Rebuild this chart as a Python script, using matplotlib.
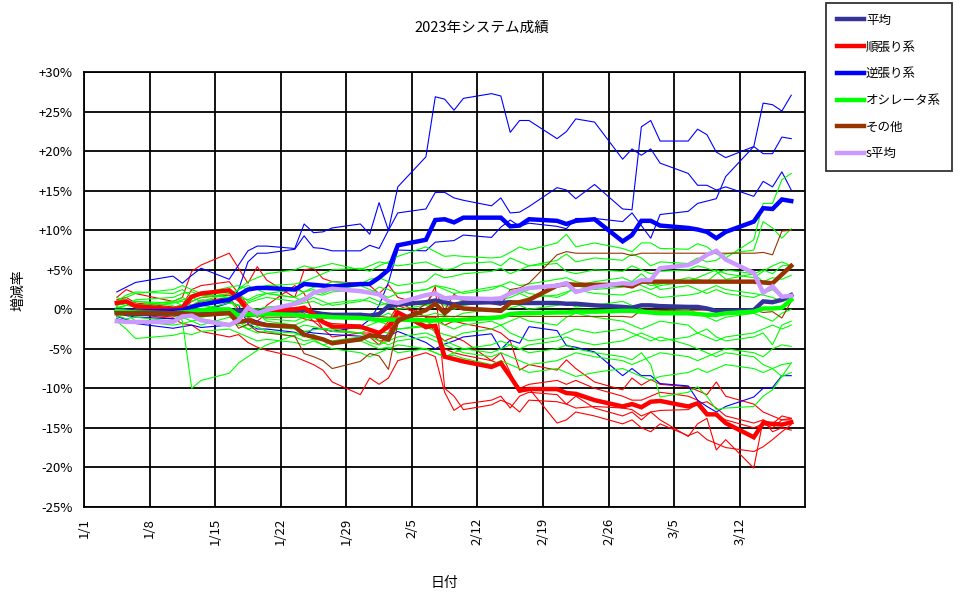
import matplotlib
matplotlib.use("Agg")
import matplotlib.pyplot as plt
from datetime import date

plt.rcParams['font.family'] = ['Noto Sans CJK JP', 'DejaVu Sans']

dates = ['1/4','1/5','1/6','1/10','1/11','1/12','1/13','1/16','1/17','1/18','1/19','1/20',
         '1/23','1/24','1/25','1/26','1/27','1/30','1/31','2/1','2/2','2/3','2/6','2/7','2/8',
         '2/9','2/10','2/13','2/14','2/15','2/16','2/17','2/20','2/21','2/22','2/24','2/27',
         '2/28','3/1','3/2','3/3','3/6','3/7','3/8','3/9','3/10','3/13','3/14','3/15','3/16','3/17']

tick_labels = ['1/1','1/8','1/15','1/22','1/29','2/5','2/12','2/19','2/26','3/5','3/12']
y_ticks = [30, 25, 20, 15, 10, 5, 0, -5, -10, -15, -20, -25]

# averages (%)
avg_all = [-0.3,-0.5,-0.6,-0.6,-0.5,-0.4,-0.2,-0.3,-0.2,-0.3,-0.4,-0.3,-0.2,-0.1,-0.4,-0.6,-0.7,
           -0.7,-0.8,-0.6,0.4,0.6,0.9,1.1,0.9,0.6,0.8,0.9,0.8,0.9,0.8,0.8,0.8,0.7,0.7,0.5,0.3,
           0.2,0.5,0.5,0.4,0.3,0.3,0.1,-0.2,-0.2,-0.1,1.0,0.9,1.2,1.8]
trend_avg = [0.8,1.0,0.4,0.0,0.2,1.6,2.0,2.4,1.4,-0.1,-0.6,-0.1,0.0,0.2,-0.6,-1.6,-2.2,-2.2,
             -2.6,-3.0,-2.2,-0.4,-2.2,-2.1,-6.0,-6.3,-6.6,-7.3,-6.8,-8.5,-10.3,-10.1,-10.1,
             -10.6,-10.7,-11.5,-12.3,-12.0,-12.4,-11.7,-11.6,-12.3,-11.9,-13.3,-13.3,-14.4,
             -16.2,-14.4,-14.5,-14.6,-14.3]
contra_avg = [-0.1,-0.2,-0.3,-0.2,-0.1,0.3,0.6,1.2,1.8,2.5,2.7,2.7,2.5,3.2,3.1,3.0,2.9,3.2,
              3.2,4.0,5.0,8.1,8.8,11.3,11.4,11.0,11.6,11.6,11.6,10.5,10.6,11.4,11.2,10.8,11.2,
              11.4,8.6,9.4,11.2,11.2,10.6,10.3,10.1,9.8,9.0,9.8,11.1,12.8,12.7,13.9,13.7]
osc_avg = [-0.2,-0.3,-0.4,-0.5,-0.4,-0.3,-0.1,0.0,-0.8,-0.6,-0.7,-0.6,-0.7,-0.8,-0.9,-0.9,
           -1.0,-1.1,-1.2,-1.4,-1.3,-1.3,-1.4,-1.4,-1.3,-1.4,-1.3,-1.1,-1.0,-0.6,-0.5,-0.5,
           -0.4,-0.4,-0.3,-0.3,-0.2,-0.2,-0.3,-0.4,-0.5,-0.5,-0.6,-0.7,-0.7,-0.5,-0.3,0.1,
           0.1,0.2,1.2]
other_avg = [-0.5,-0.5,-0.5,-0.5,-0.5,-0.6,-0.7,-0.5,-1.6,-1.4,-1.8,-2.0,-2.2,-3.2,-3.5,-3.8,
             -4.3,-3.8,-3.3,-3.4,-3.8,-1.4,-0.1,0.7,-0.5,0.5,0.1,-0.1,-0.2,0.8,0.9,1.2,3.0,
             3.2,3.1,3.1,3.1,2.9,3.5,3.5,3.5,3.5,3.5,3.5,3.5,3.5,3.5,3.4,3.3,4.4,5.5]
s_avg = [-1.5,-1.6,-1.6,-1.6,-0.9,-0.8,-1.4,-2.0,-1.4,0.2,-0.5,-0.1,0.7,1.2,2.1,2.4,2.6,2.3,
         2.1,1.9,1.0,0.8,1.8,2.0,1.4,1.5,1.4,1.3,1.4,2.0,2.4,2.7,3.0,3.3,2.2,2.8,3.3,3.2,3.7,
         3.7,5.2,5.6,6.1,6.9,7.4,6.3,4.6,2.1,2.9,1.6,1.7]

# individual systems: trend following (red)
trend_1 = [1.5,2.5,2.0,1.0,1.5,4.8,5.6,7.1,5.2,3.3,5.4,3.7,1.5,5.0,5.2,3.9,3.5,3.3,3.0,2.0,3.1,
           1.5,0.5,2.9,-10.0,-11.0,-12.7,-12.1,-11.5,-12.0,-13.0,-11.5,-11.7,-12.0,-12.5,-12.3,
           -12.5,-12.7,-13.5,-13.0,-12.8,-12.7,-12.0,-11.7,-12.5,-13.5,-14.4,-14.0,-14.5,-13.5,-13.8]
trend_2 = [0.3,-0.2,-0.6,-1.2,-1.8,-2.0,-2.8,-3.5,-3.2,-4.2,-4.8,-5.2,-6.0,-6.5,-7.0,-7.7,-9.2,
           -10.8,-8.7,-9.5,-8.7,-6.5,-5.5,-6.0,-10.5,-12.8,-12.0,-11.5,-11.0,-12.5,-11.0,-10.5,
           -10.8,-12.0,-11.0,-12.5,-13.5,-13.0,-14.0,-13.0,-14.0,-16.1,-14.5,-13.8,-17.8,-16.5,
           -20.1,-14.0,-15.5,-15.0,-15.3]
trend_3 = [1.0,0.8,0.2,-0.2,0.0,1.0,1.5,1.8,1.0,-0.5,-1.0,-0.5,-0.8,-1.2,-1.5,-1.5,-1.8,-2.0,
           -2.5,-3.0,-1.5,0.5,-1.0,-1.0,-2.0,-1.5,-1.8,-2.5,-3.0,-4.0,-7.7,-7.0,-7.7,-6.4,-7.5,
           -9.2,-10.2,-8.7,-9.6,-8.9,-9.5,-9.8,-10.3,-10.8,-9.2,-11.0,-12.0,-13.0,-13.5,-14.0,-14.0]
trend_4 = [1.2,1.5,0.8,0.3,0.5,2.5,3.0,3.5,2.0,0.5,-1.0,0.5,3.0,2.0,-0.5,-2.5,-2.8,-3.0,-3.0,
           -4.0,-4.0,1.0,-1.0,-3.0,-4.0,-3.5,-4.0,-6.5,-5.5,-8.0,-10.5,-10.0,-14.4,-14.0,-13.0,
           -13.5,-14.5,-14.0,-15.0,-15.5,-14.5,-16.0,-15.5,-16.5,-17.0,-17.5,-18.0,-17.4,-16.5,
           -15.5,-14.6]
trend_5 = [-0.5,0.0,-0.5,-1.0,-0.5,0.5,1.0,1.5,0.0,-1.0,-1.5,-0.5,0.0,-0.5,-1.5,-2.5,-3.5,-3.0,
           -3.5,-4.5,-3.0,-0.5,-2.5,-2.0,-5.0,-5.5,-5.8,-6.5,-7.0,-8.5,-10.0,-9.5,-9.0,-9.5,-9.0,
           -10.0,-11.0,-11.5,-11.5,-11.0,-10.5,-11.0,-11.5,-13.0,-13.5,-14.0,-15.0,-14.5,-15.0,
           -14.0,-13.8]

# contrarian (blue)
contra_1 = [2.2,2.8,3.4,4.2,3.3,4.3,5.2,3.8,5.6,7.4,8.0,8.0,7.7,10.8,9.7,9.8,10.3,10.8,9.5,13.5,
            10.0,15.5,19.3,26.9,26.6,25.2,26.7,27.3,27.0,22.4,23.9,23.9,21.6,22.5,24.1,23.7,19.0,
            20.3,19.5,20.3,18.5,17.2,15.7,15.7,15.1,15.5,14.3,16.2,15.5,17.4,15.1]
contra_2 = [-0.5,-0.8,-1.0,-1.2,-1.0,-0.6,-0.3,0.8,2.5,6.0,7.1,7.1,7.6,9.3,7.8,7.7,7.4,7.4,8.1,
            7.7,10.0,12.2,12.7,14.8,14.8,14.1,13.8,13.1,14.1,12.2,12.3,13.0,15.4,15.1,14.0,15.8,
            12.7,12.6,23.1,23.9,21.3,21.3,22.8,22.1,19.9,19.2,20.6,26.1,25.9,25.1,27.1]
contra_3 = [-1.2,-1.5,-1.8,-2.4,-2.2,-2.0,-2.3,-2.0,-1.6,-1.2,-1.5,-1.8,-2.3,-2.8,-3.0,-3.1,-3.2,
            -3.4,-3.5,-3.3,-3.4,-2.8,-4.2,-5.0,-4.4,-4.0,-3.5,-3.1,-5.1,-3.9,-4.3,-2.2,-2.7,-4.6,
            -4.8,-5.4,-8.4,-7.5,-8.4,-8.4,-9.4,-9.7,-11.5,-12.3,-13.0,-12.3,-11.1,-10.0,-9.9,-8.4,-8.4]
contra_4 = [-0.9,-1.3,-1.6,-1.4,-0.8,-0.6,-0.3,0.9,0.5,-1.8,-2.5,-2.5,-2.9,-3.4,-2.4,-2.5,-2.8,
            -2.2,-1.3,0.5,3.4,7.5,7.4,8.5,8.6,8.7,9.4,9.1,10.4,11.3,10.5,10.9,10.5,10.2,11.5,11.5,
            11.1,12.2,10.6,9.0,12.0,12.4,13.4,13.7,14.0,16.8,20.6,19.7,19.7,21.8,21.6]

# oscillators (green)
osc_1 = [1.0,1.8,2.2,2.0,2.5,1.5,2.0,2.8,3.0,2.5,2.8,3.0,3.2,3.5,4.0,4.5,5.0,5.2,4.8,5.5,6.0,6.7,
         7.9,7.3,6.7,6.8,6.7,6.5,6.6,7.2,7.9,7.5,8.4,9.5,7.9,8.4,7.7,7.3,8.4,8.4,7.7,7.6,8.3,7.9,
         7.0,6.5,8.8,13.4,13.4,16.4,17.2]
osc_2 = [0.5,1.0,0.5,1.0,1.5,1.0,1.5,2.0,2.5,3.5,4.0,4.5,5.0,5.5,5.2,5.5,5.8,5.0,5.5,6.0,5.8,5.5,
         6.0,5.5,5.0,5.2,5.8,6.0,5.5,6.5,6.0,5.5,6.2,7.0,6.0,6.5,6.2,7.0,6.5,5.5,6.0,5.8,6.5,6.0,
         6.2,7.0,7.5,11.1,10.3,9.0,10.2]
osc_3 = [0.8,0.5,1.2,1.5,2.0,2.2,1.8,1.5,2.0,1.0,1.5,2.0,2.5,2.2,2.8,3.0,3.5,3.2,3.8,4.0,3.5,3.0,
         3.5,4.5,4.0,4.2,4.5,4.8,5.2,4.5,5.0,5.5,5.8,4.8,4.5,5.0,4.8,5.5,5.0,4.5,4.8,5.0,5.5,5.2,
         4.8,3.8,4.5,5.0,4.5,5.5,5.6]
osc_4 = [0.2,0.5,0.3,0.8,1.0,0.5,1.2,1.0,0.5,0.8,1.2,1.5,1.0,1.5,2.0,1.8,2.2,2.5,2.0,2.8,2.5,2.0,
         2.5,3.0,2.8,2.5,2.0,2.5,3.0,3.5,3.0,3.2,3.8,4.0,3.5,3.0,3.2,2.8,3.5,3.0,3.2,4.0,3.8,3.5,
         4.5,5.0,4.5,3.5,4.0,3.8,4.3]
osc_5 = [-0.5,-0.3,0.0,0.2,0.5,0.3,0.0,0.8,0.5,0.2,0.0,0.3,0.5,0.8,1.0,0.5,0.8,1.2,1.0,0.5,0.8,
         1.0,0.5,0.8,1.2,1.5,1.0,0.8,1.2,1.5,2.0,1.5,1.8,2.2,2.5,2.0,1.8,2.2,2.5,2.0,1.5,1.8,2.0,
         2.5,3.0,2.5,2.0,1.8,1.5,1.0,1.3]
osc_6 = [0.0,-0.5,-0.8,-0.5,-0.2,0.0,0.5,1.5,-0.5,-1.0,-0.8,-1.2,-1.5,-1.0,-0.8,-1.2,-1.0,-0.5,
         -0.8,-1.0,-0.5,-1.0,-0.8,-0.5,-0.8,-1.0,-0.5,0.0,-0.3,0.2,0.5,0.0,0.5,0.8,0.3,0.5,1.0,
         0.5,0.0,-0.5,-0.2,0.0,-0.5,-1.0,-1.5,-1.0,-0.5,-1.0,-1.5,-0.5,0.0]
osc_7 = [-0.8,-1.2,-1.0,-1.5,-1.2,-0.8,-1.0,-0.5,-1.5,-2.0,-1.8,-2.2,-2.5,-2.0,-2.2,-2.5,-2.8,
         -3.0,-2.5,-2.8,-3.0,-2.5,-2.2,-2.8,-3.2,-3.5,-3.0,-2.5,-2.0,-1.5,-1.0,-1.5,-2.0,-1.0,
         -0.5,-1.0,-1.5,-2.0,-2.5,-2.0,-1.5,-2.0,-3.0,-3.5,-4.0,-3.5,-3.0,-2.5,-2.0,-2.5,-2.0]
osc_8 = [0.5,0.8,1.0,0.5,-1.5,-10.0,-9.0,-8.1,-6.8,-6.0,-5.2,-4.5,-3.3,-2.8,-2.6,-2.4,-2.5,-3.0,
         -3.5,-4.0,-4.5,-4.0,-3.5,-4.0,-4.5,-5.0,-5.5,-6.0,-5.5,-6.0,-6.5,-7.0,-6.5,-6.0,-5.5,
         -6.0,-6.5,-7.0,-6.5,-6.0,-5.5,-6.0,-6.5,-6.0,-5.5,-5.0,-5.5,-6.0,-5.0,-4.5,-4.7]
osc_9 = [-1.5,-2.5,-3.7,-3.3,-3.0,-3.2,-2.8,-2.5,-3.0,-3.5,-4.0,-3.8,-4.2,-4.5,-4.0,-4.5,-5.0,
         -5.5,-6.0,-5.5,-5.0,-4.5,-5.0,-5.5,-6.0,-5.8,-6.2,-7.0,-6.5,-7.0,-7.5,-8.0,-7.5,-8.0,
         -8.5,-8.0,-7.5,-8.0,-8.5,-9.0,-8.5,-8.0,-7.5,-8.0,-7.5,-7.0,-7.5,-8.0,-7.5,-7.0,-6.8]
osc_10 = [0.3,0.0,-0.5,-0.8,-1.0,-1.5,-1.2,-1.8,-2.0,-2.5,-2.2,-2.8,-3.0,-3.5,-3.2,-3.8,-4.0,
          -3.5,-4.2,-4.5,-4.0,-3.5,-3.0,-3.5,-4.0,-4.5,-5.0,-4.5,-4.0,-4.5,-5.0,-5.5,-5.0,-4.5,
          -5.0,-5.5,-6.0,-6.4,-5.5,-7.0,-11.1,-10.5,-9.8,-11.0,-12.7,-12.5,-12.3,-11.0,-10.2,
          -8.5,-6.8]
osc_11 = [1.5,1.0,0.5,1.0,0.5,0.2,0.5,0.0,-0.5,-1.0,-0.5,-1.5,-2.0,-1.5,-1.0,-1.5,-2.0,-2.5,
          -2.0,-1.5,-2.0,-2.5,-2.0,-1.5,-2.0,-2.5,-2.0,-1.5,-2.0,-3.0,-3.5,-4.0,-3.5,-3.0,-2.5,
          -3.0,-2.5,-3.0,-3.5,-4.0,-3.5,-4.5,-5.0,-5.5,-6.0,-5.5,-6.0,-7.0,-7.5,-8.5,-8.0]
osc_12 = [0.0,0.5,1.0,0.8,1.2,1.5,1.0,2.0,1.5,1.2,1.8,2.0,1.5,2.2,2.5,2.0,2.5,3.0,2.5,2.0,1.5,
          2.0,2.5,3.0,2.5,2.0,2.2,2.8,3.0,2.5,2.0,2.5,3.0,3.5,3.0,2.5,2.8,3.5,4.5,3.5,2.5,3.0,
          2.5,2.0,2.5,2.0,1.5,2.0,2.5,1.5,2.0]
osc_13 = [-1.0,-0.5,-1.5,-2.0,-1.8,-1.5,-2.0,-1.0,-1.5,-2.5,-3.0,-2.8,-3.5,-4.0,-3.8,-4.5,-4.2,
          -4.0,-4.5,-5.0,-4.8,-5.5,-5.0,-5.5,-6.0,-5.5,-5.0,-5.5,-5.0,-4.5,-5.0,-4.5,-4.0,-3.5,
          -4.0,-4.5,-4.0,-3.5,-3.0,-3.5,-4.0,-3.5,-3.0,-2.5,-3.5,-4.0,-3.5,-3.0,-4.5,-2.0,-1.5]
osc_14 = [0.5,1.5,2.0,2.5,3.0,2.5,2.0,1.5,2.5,3.0,2.5,2.0,1.5,1.0,1.5,1.0,0.5,1.0,1.5,1.0,0.5,
          0.0,0.5,1.0,0.5,0.0,0.5,1.0,1.5,2.0,2.5,2.0,1.5,2.0,3.0,3.5,4.0,3.5,3.0,2.5,3.0,3.5,
          4.0,4.5,5.0,4.5,4.0,4.8,5.5,6.0,5.5]

# others (brown)
other_1 = [-0.3,-0.4,-0.4,-0.5,-0.4,-0.5,-0.6,-0.4,-0.8,-0.9,-0.8,-1.0,-1.0,-0.8,-1.0,-1.1,-1.1,
           -1.0,-1.0,-0.9,-1.0,-1.0,-0.9,-0.9,-0.9,-0.9,-0.9,-0.9,-0.9,-0.9,-0.9,-0.9,-0.9,-0.9,
           -0.9,-0.9,-0.9,-1.0,-0.1,-0.1,-0.1,-0.1,-0.1,-0.1,-0.1,-0.1,-0.1,-0.4,-0.3,-1.1,1.0]
other_2 = [-0.7,-0.6,-0.6,-0.5,-0.6,-0.7,-0.8,-0.6,-2.4,-1.9,-2.8,-3.0,-3.4,-5.6,-6.0,-6.5,-7.5,
           -6.6,-5.6,-5.9,-7.6,-1.8,0.7,2.3,-0.1,1.9,1.1,0.7,0.5,2.5,2.7,3.3,6.9,7.3,7.1,7.1,7.1,
           6.8,7.1,7.1,7.1,7.1,7.1,7.1,7.1,7.1,7.1,7.2,6.9,9.9,10.0]

series_thin = [
    (trend_1, '#FF0000'), (trend_2, '#FF0000'), (trend_3, '#FF0000'), (trend_4, '#FF0000'), (trend_5, '#FF0000'),
    (contra_1, '#0000FF'), (contra_2, '#0000FF'), (contra_3, '#0000FF'), (contra_4, '#0000FF'),
    (osc_1, '#00FF00'), (osc_2, '#00FF00'), (osc_3, '#00FF00'), (osc_4, '#00FF00'), (osc_5, '#00FF00'),
    (osc_6, '#00FF00'), (osc_7, '#00FF00'), (osc_8, '#00FF00'), (osc_9, '#00FF00'), (osc_10, '#00FF00'),
    (osc_11, '#00FF00'), (osc_12, '#00FF00'), (osc_13, '#00FF00'), (osc_14, '#00FF00'),
    (other_1, '#993300'), (other_2, '#993300'),
]

series_thick = [
    ('平均', avg_all, '#333399'),
    ('順張り系', trend_avg, '#FF0000'),
    ('逆張り系', contra_avg, '#0000FF'),
    ('オシレータ系', osc_avg, '#00FF00'),
    ('その他', other_avg, '#993300'),
    ('s平均', s_avg, '#CC99FF'),
]

jan1 = date(2023, 1, 1)
def to_x(s):
    m, d = s.split('/')
    return (date(2023, int(m), int(d)) - jan1).days + 0.5
xs = [to_x(s) for s in dates]
tick_pos = [(date(2023, int(t.split('/')[0]), int(t.split('/')[1])) - jan1).days for t in tick_labels]

fig = plt.figure(figsize=(9.70, 5.99), dpi=100)
ax = fig.add_axes([84/970, 1-506.8/599, (805.3-84)/970, (506.8-72.3)/599])

for vals, col in series_thin:
    ax.plot(xs, vals, color=col, lw=0.8, zorder=2)

handles = []
for name, vals, col in series_thick:
    h, = ax.plot(xs, vals, color=col, lw=3.2, zorder=3, label=name, solid_joinstyle='miter')
    handles.append(h)

ax.set_xlim(0, 77)
ax.set_ylim(-25, 30)
ax.set_xticks(tick_pos)
ax.set_xticklabels(tick_labels, rotation=90, fontsize=9.5)
ax.set_yticks(y_ticks)
ax.set_yticklabels([('+%d%%' % v) if v > 0 else ('%d%%' % v) for v in y_ticks], fontsize=9.5)
ax.tick_params(length=0, pad=8)
ax.grid(True, color='black', lw=1.3)
ax.set_axisbelow(True)
for sp in ax.spines.values():
    sp.set_color('black')
    sp.set_linewidth(1.3)

fig.text(0.497, 1-28/599, '2023年システム成績', ha='center', va='center', fontsize=10.5)
fig.text(18/970, 1-290/599, '増減率', ha='center', va='center', rotation=90, fontsize=10)
fig.text(444/970, 1-583/599, '日付', ha='center', va='center', fontsize=10)

leg = fig.legend(handles=handles, loc='upper left', bbox_to_anchor=(826/970, 1-3/599),
                 frameon=True, fancybox=False, edgecolor='black', fontsize=9,
                 handlelength=2.2, handletextpad=0.15, labelspacing=1.1, borderpad=0.85,
                 borderaxespad=0)
leg.get_frame().set_linewidth(1.3)

fig.savefig('out.png', dpi=100)
